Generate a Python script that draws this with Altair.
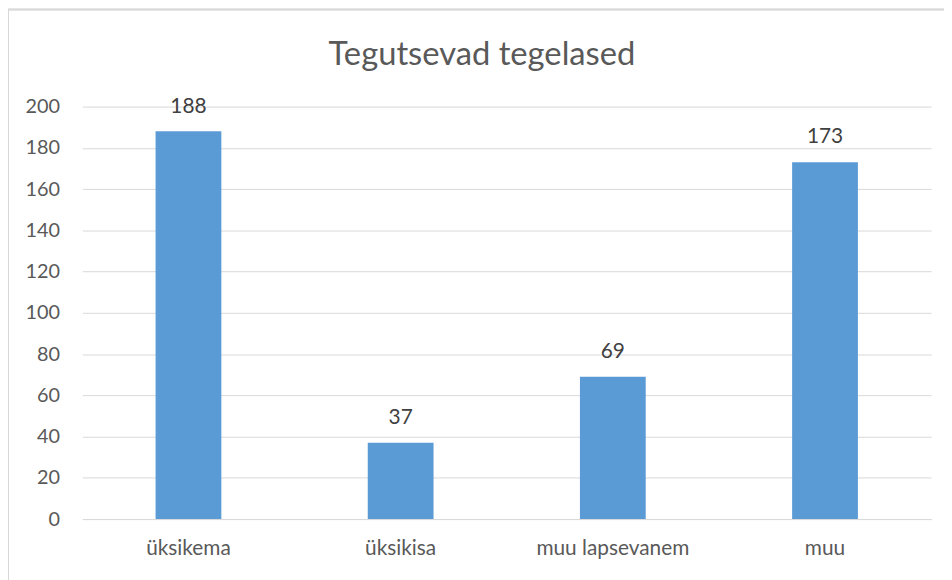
import altair as alt
import pandas as pd

categories = ["üksikema", "üksikisa", "muu lapsevanem", "muu"]
values = [188, 37, 69, 173]
title_text = "Tegutsevad tegelased"

df = pd.DataFrame({"cat": categories, "val": values})

FONT = "Lato"
GREY = "#595959"

x = alt.X("cat:N", sort=categories, title=None,
          scale=alt.Scale(paddingInner=0.69, paddingOuter=0.345),
          axis=alt.Axis(labelAngle=0, labelFontSize=21, labelColor=GREY, labelFont=FONT,
                        ticks=False, domainColor="#d9d9d9", labelPadding=19, grid=False))
y = alt.Y("val:Q", title=None,
          scale=alt.Scale(domain=[0, 200], nice=False),
          axis=alt.Axis(values=list(range(0, 201, 20)), labelFontSize=20, labelColor=GREY,
                        labelFont=FONT, ticks=False, domain=False, gridColor="#d9d9d9",
                        labelPadding=23))

base = alt.Chart(df)
bars = base.mark_bar(color="#5b9bd5").encode(x=x, y=y)
labels = base.mark_text(dy=-25, fontSize=21, color="#404040", font=FONT, baseline="middle").encode(
    x=alt.X("cat:N", sort=categories), y="val:Q", text="val:Q")
border = base.mark_rect(fill=None, stroke="#d9d9d9", strokeWidth=1.5).encode(
    x=alt.value(-75), x2=alt.value(900), y=alt.value(-98), y2=alt.value(520))
title = alt.Chart(pd.DataFrame({"t": [title_text]})).mark_text(
    fontSize=33, color=GREY, font=FONT, baseline="alphabetic", align="center").encode(
    x=alt.value(403), y=alt.value(-42), text="t:N")

chart = alt.layer(border, bars, labels, title).properties(
    width=856, height=416,
    autosize=alt.AutoSizeParams(type="none"),
    padding={"left": 75, "top": 97, "right": 13, "bottom": 59},
).configure_view(stroke=None)

chart.save("out.html", embed_options={"renderer": "svg", "actions": False})
